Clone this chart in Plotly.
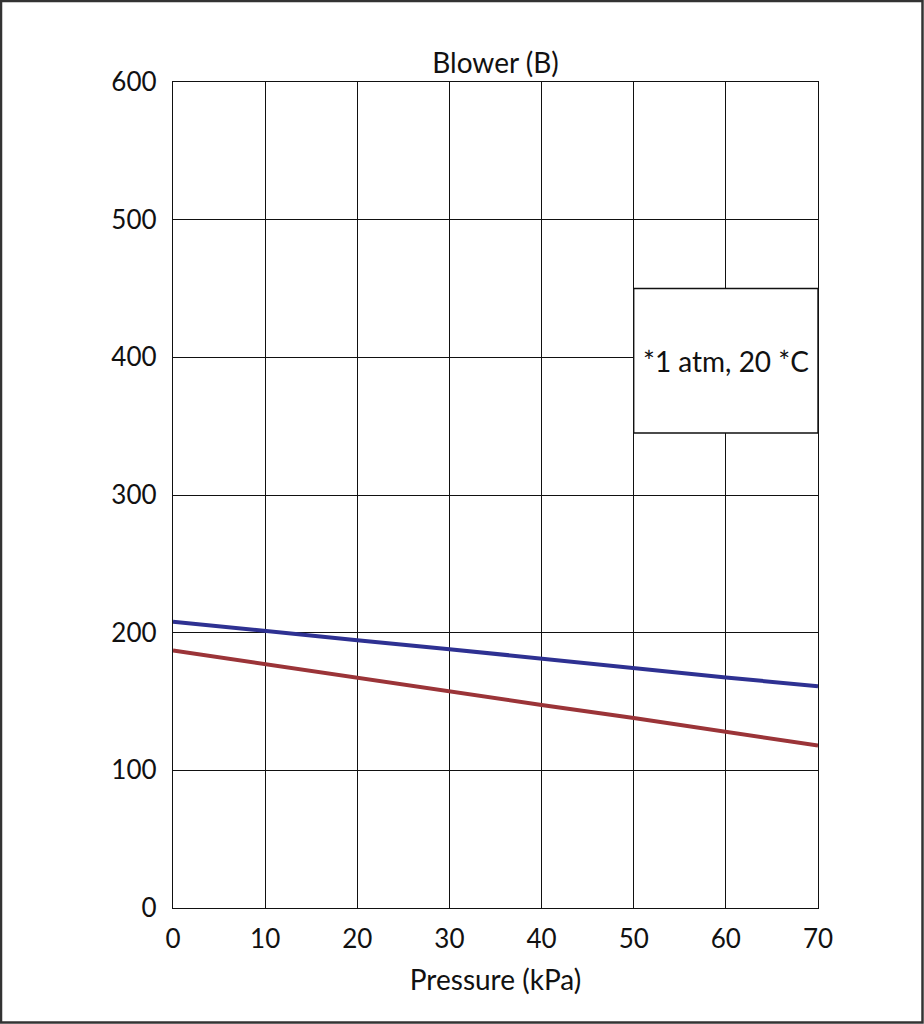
import plotly.graph_objects as go

pressure = [0, 10, 20, 30, 40, 50, 60, 70]
blue_series = [208, 201, 194.5, 188, 181, 174.5, 167.5, 161]
red_series = [187, 177, 167, 157.5, 147.5, 138, 128, 118]
x_ticks = [0, 10, 20, 30, 40, 50, 60, 70]
y_ticks = [0, 100, 200, 300, 400, 500, 600]
title_text = "Blower (B)"
x_title = "Pressure (kPa)"
note_text = "*1 atm, 20 *C"
note_box = [50, 70, 345, 450]

FONT = "Lato"
W, H = 924, 1024
L, R, T, B = 173, 106, 82, 116
pw, ph = W - L - R, H - T - B

fig = go.Figure()
fig.add_trace(go.Scatter(x=pressure, y=blue_series, mode="lines",
                         line=dict(color="#2E3192", width=4), showlegend=False))
fig.add_trace(go.Scatter(x=pressure, y=red_series, mode="lines",
                         line=dict(color="#9B3438", width=4), showlegend=False))

axis_common = dict(showgrid=True, gridcolor="#111111", gridwidth=1.4,
                   showline=True, linecolor="#111111", linewidth=1.4, mirror=True,
                   zeroline=False, ticks="", tickfont=dict(family=FONT, size=26, color="#111111"))

fig.update_xaxes(range=[0, 70], tickvals=x_ticks, ticklabelstandoff=8,
                 title=dict(text=x_title, font=dict(family=FONT, size=28, color="#111111"), standoff=16),
                 **axis_common)
fig.update_yaxes(range=[0, 600], tickvals=y_ticks, ticklabelstandoff=10, **axis_common)

fig.add_shape(type="rect", xref="x", yref="y", x0=note_box[0], x1=note_box[1],
              y0=note_box[2], y1=note_box[3], fillcolor="white",
              line=dict(color="#111111", width=1.4), layer="above")
fig.add_annotation(x=(note_box[0] + note_box[1]) / 2, y=397, xref="x", yref="y",
                   text=note_text, showarrow=False,
                   font=dict(family=FONT, size=28, color="#111111"))

# outer frame
fig.add_shape(type="rect", xref="paper", yref="paper",
              x0=(1 - L) / pw, x1=(922.5 - L) / pw,
              y0=(H - B - 1022.5) / ph, y1=(H - B - 1) / ph,
              line=dict(color="#333333", width=2.5), fillcolor="rgba(0,0,0,0)", layer="above")

fig.update_layout(
    width=W, height=H,
    margin=dict(l=L, r=R, t=T, b=B),
    paper_bgcolor="white", plot_bgcolor="white",
    title=dict(text=title_text, x=0.5, xref="paper", xanchor="center",
               y=1 - 63 / H, yanchor="middle",
               font=dict(family=FONT, size=28, color="#111111")),
)

fig.write_html("out.html", config={"displayModeBar": False},
               post_script="document.body.style.margin='0';document.body.style.overflow='hidden';")
